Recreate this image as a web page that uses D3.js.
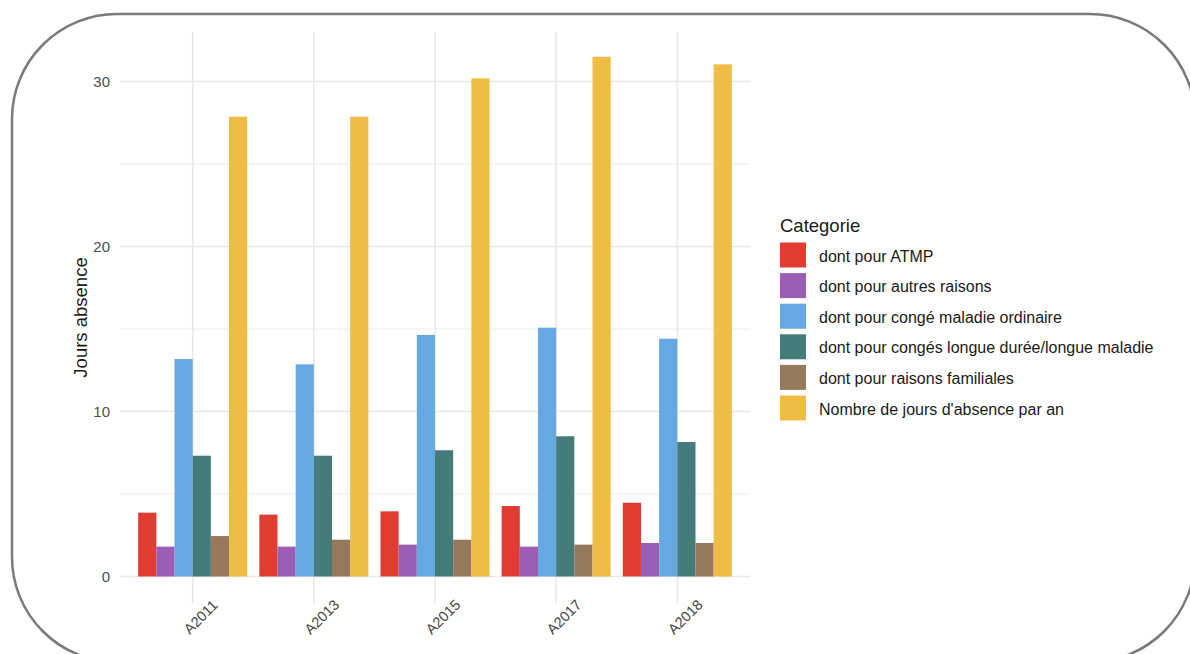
<!DOCTYPE html>
<html>
<head>
<meta charset="utf-8">
<script src="https://cdn.jsdelivr.net/npm/d3@7"></script>
<style>
  body { margin: 0; background: #fff; }
  svg { display: block; font-family: "Liberation Sans", Arial, sans-serif; }
</style>
</head>
<body>
<svg id="chart" width="1190" height="654"></svg>
<script>
// Data
const years = ["A2011", "A2013", "A2015", "A2017", "A2018"];
const categories = [
  "dont pour ATMP",
  "dont pour autres raisons",
  "dont pour congé maladie ordinaire",
  "dont pour congés longue durée/longue maladie",
  "dont pour raisons familiales",
  "Nombre de jours d'absence par an"
];
const colors = ["#e03c31", "#9c5db4", "#66a8e2", "#457b78", "#96785c", "#efbc46"];

const atmp      = [3.87, 3.75, 3.95, 4.27, 4.47];
const autres    = [1.81, 1.81, 1.93, 1.81, 2.03];
const cmo       = [13.18, 12.86, 14.64, 15.08, 14.41];
const longue    = [7.32, 7.32, 7.65, 8.50, 8.15];
const familiales = [2.45, 2.23, 2.23, 1.93, 2.03];
const total     = [27.87, 27.87, 30.19, 31.50, 31.04];
const series = [atmp, autres, cmo, longue, familiales, total];

const yTicks = [0, 10, 20, 30];
const yMinor = [5, 15, 25];

// Build long table
const rows = [];
years.forEach((yr, i) => {
  categories.forEach((c, j) => rows.push({ year: yr, cat: c, value: series[j][i] }));
});

const svg = d3.select("#chart");
const panel = { left: 120, right: 750, top: 32, bottom: 603 };

// Rounded frame
svg.append("rect")
  .attr("x", 12).attr("y", 14)
  .attr("width", 1183).attr("height", 648)
  .attr("rx", 105).attr("ry", 105)
  .attr("fill", "#fff")
  .attr("stroke", "#7a7a7a")
  .attr("stroke-width", 2.5);

const x = d3.scaleBand()
  .domain(years)
  .range([panel.left, panel.right])
  .paddingInner(0.1)
  .paddingOuter(0.15);

const xInner = d3.scaleBand()
  .domain(categories)
  .range([0, x.bandwidth()]);

const y = d3.scaleLinear()
  .domain([0, 30])
  .range([576.5, 81.5]);

const color = d3.scaleOrdinal().domain(categories).range(colors);

// Grid lines
svg.append("g").selectAll("line.minor")
  .data(yMinor)
  .join("line")
  .attr("x1", panel.left).attr("x2", panel.right)
  .attr("y1", d => y(d)).attr("y2", d => y(d))
  .attr("stroke", "#ececec").attr("stroke-width", 1);

svg.append("g").selectAll("line.major")
  .data(yTicks)
  .join("line")
  .attr("x1", panel.left).attr("x2", panel.right)
  .attr("y1", d => y(d)).attr("y2", d => y(d))
  .attr("stroke", "#e8e8e8").attr("stroke-width", 1.5);

svg.append("g").selectAll("line.vgrid")
  .data(years)
  .join("line")
  .attr("x1", d => x(d) + x.bandwidth() / 2).attr("x2", d => x(d) + x.bandwidth() / 2)
  .attr("y1", panel.top).attr("y2", panel.bottom)
  .attr("stroke", "#e8e8e8").attr("stroke-width", 1.5);

// Bars
svg.append("g").selectAll("rect")
  .data(rows)
  .join("rect")
  .attr("x", d => x(d.year) + xInner(d.cat))
  .attr("y", d => y(d.value))
  .attr("width", xInner.bandwidth())
  .attr("height", d => y(0) - y(d.value))
  .attr("fill", d => color(d.cat));

// Y axis
const yAxis = svg.append("g")
  .attr("transform", `translate(${panel.left},0)`)
  .call(d3.axisLeft(y).tickValues(yTicks).tickSize(0).tickPadding(10));
yAxis.select(".domain").remove();
yAxis.selectAll("text")
  .attr("font-size", 15)
  .attr("font-family", "Liberation Sans, Arial, sans-serif")
  .attr("fill", "#4d4d4d");

// X axis labels (rotated)
const xAxis = svg.append("g")
  .attr("transform", `translate(0,${panel.bottom})`)
  .call(d3.axisBottom(x).tickSize(0));
xAxis.select(".domain").remove();
xAxis.selectAll("text")
  .attr("font-size", 14.5)
  .attr("font-family", "Liberation Sans, Arial, sans-serif")
  .attr("fill", "#444")
  .attr("text-anchor", "middle")
  .attr("dy", null)
  .attr("y", 0)
  .attr("transform", "translate(8,14) rotate(-45)")
  .attr("dominant-baseline", "central");

// Y axis title
svg.append("text")
  .attr("transform", `translate(80,${(panel.top + panel.bottom) / 2}) rotate(-90)`)
  .attr("text-anchor", "middle")
  .attr("dominant-baseline", "central")
  .attr("font-size", 18.5)
  .attr("fill", "#1a1a1a")
  .text("Jours absence");

// Legend
const legend = svg.append("g").attr("transform", "translate(780,0)");
legend.append("text")
  .attr("x", 0).attr("y", 225)
  .attr("dominant-baseline", "central")
  .attr("font-size", 18.5)
  .attr("fill", "#1a1a1a")
  .text("Categorie");

const item = legend.selectAll("g.item")
  .data(categories)
  .join("g")
  .attr("transform", (d, i) => `translate(0,${242.5 + i * 30.6})`);

item.append("rect")
  .attr("width", 26).attr("height", 25)
  .attr("fill", d => color(d));

item.append("text")
  .attr("x", 39).attr("y", 13.5)
  .attr("dominant-baseline", "central")
  .attr("font-size", 16)
  .attr("fill", "#1a1a1a")
  .text(d => d);
</script>
</body>
</html>
